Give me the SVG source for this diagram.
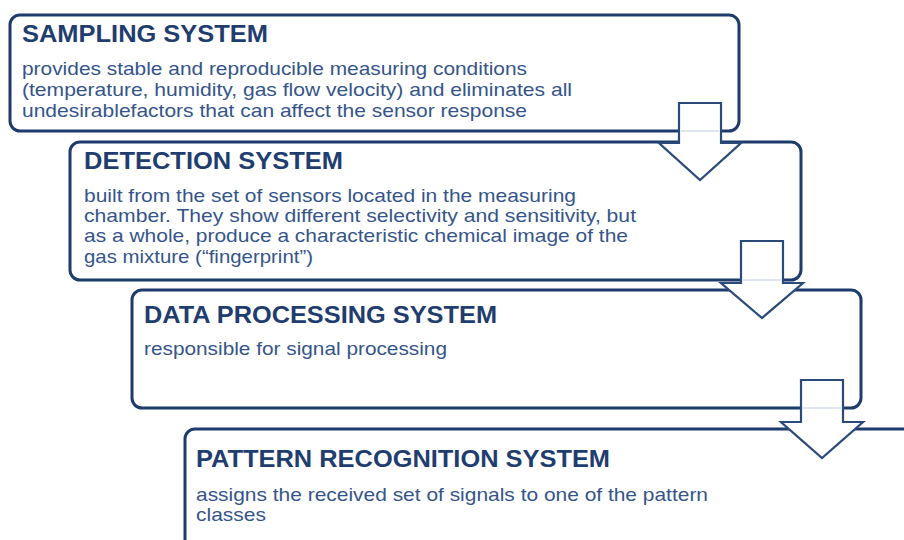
<svg xmlns="http://www.w3.org/2000/svg" width="904" height="540" viewBox="0 0 904 540">
<style>
.box{fill:#ffffff;stroke:#1d3b6b;stroke-width:3}
.arrow{fill:#ffffff;stroke:#2a4a7a;stroke-width:2.2;stroke-linejoin:miter}
.ghost{stroke:#dfe5ee;stroke-width:2}
.title{font-family:"Liberation Sans",Arial,sans-serif;font-weight:bold;font-size:23px;fill:#1f3d6e}
.body{font-family:"Liberation Sans",Arial,sans-serif;font-size:19px;fill:#35558a}
</style>
<rect width="904" height="540" fill="#ffffff"/>
<g id="sampling">
<rect class="box" x="10" y="15" width="729" height="116" rx="10"/>
<text class="title" x="22" y="42" textLength="246" lengthAdjust="spacingAndGlyphs">SAMPLING SYSTEM</text>
<text class="body" x="22" y="75" textLength="505" lengthAdjust="spacingAndGlyphs">provides stable and reproducible measuring conditions</text>
<text class="body" x="22" y="96" textLength="550" lengthAdjust="spacingAndGlyphs">(temperature,  humidity,  gas flow velocity) and eliminates all</text>
<text class="body" x="22" y="117" textLength="505" lengthAdjust="spacingAndGlyphs">undesirablefactors that can affect the sensor response</text>
</g>
<g id="detection">
<rect class="box" x="70" y="142" width="731" height="138" rx="10"/>
<text class="title" x="84" y="169" textLength="259" lengthAdjust="spacingAndGlyphs">DETECTION SYSTEM</text>
<text class="body" x="84" y="202" textLength="492" lengthAdjust="spacingAndGlyphs">built from the set of sensors located in the measuring</text>
<text class="body" x="84" y="222" textLength="552" lengthAdjust="spacingAndGlyphs">chamber. They show different selectivity and sensitivity, but</text>
<text class="body" x="84" y="242" textLength="544" lengthAdjust="spacingAndGlyphs">as a whole, produce a characteristic chemical image of the</text>
<text class="body" x="84" y="263" textLength="229" lengthAdjust="spacingAndGlyphs">gas mixture  (“fingerprint”)</text>
</g>
<g id="processing">
<rect class="box" x="132" y="290" width="729" height="118" rx="10"/>
<text class="title" x="144" y="323" textLength="353" lengthAdjust="spacingAndGlyphs">DATA PROCESSING SYSTEM</text>
<text class="body" x="144" y="355" textLength="303" lengthAdjust="spacingAndGlyphs">responsible for signal processing</text>
</g>
<g id="recognition">
<rect class="box" x="185" y="429" width="760" height="150" rx="10"/>
<text class="title" x="196" y="467" textLength="414" lengthAdjust="spacingAndGlyphs">PATTERN RECOGNITION SYSTEM</text>
<text class="body" x="196" y="501" textLength="512" lengthAdjust="spacingAndGlyphs">assigns the received set of signals to one of the pattern</text>
<text class="body" x="196" y="521" textLength="70" lengthAdjust="spacingAndGlyphs">classes</text>
</g>
<g id="connectors">
<polygon class="arrow" points="679,103 721,103 721,143 741,143 700,180 659,143 679,143"/>
<line class="ghost" x1="681" y1="131" x2="719" y2="131"/>
<polygon class="arrow" points="741,241 783,241 783,283 803,283 762,318 721,283 741,283"/>
<line class="ghost" x1="743" y1="280" x2="781" y2="280"/>
<polygon class="arrow" points="801,380 843,380 843,422 863,422 822,458 781,422 801,422"/>
<line class="ghost" x1="803" y1="408" x2="841" y2="408"/>
</g>
</svg>
